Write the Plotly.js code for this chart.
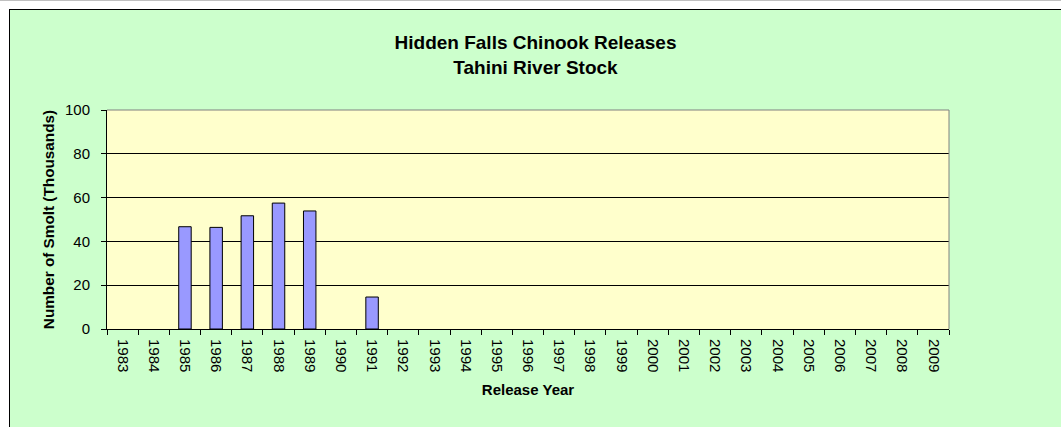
<!DOCTYPE html>
<html>
<head>
<meta charset="utf-8">
<script src="https://cdn.plot.ly/plotly-3.0.1.min.js"></script>
<style>
  html, body { margin: 0; padding: 0; background: #ffffff; width: 1061px; height: 427px; overflow: hidden; }
  #topline { position: absolute; left: 0; top: 0; width: 1061px; height: 1px; background: #c0c0c0; }
  #frame { position: absolute; left: 9px; top: 9px; width: 1052px; height: 418px; border-left: 1px solid #000; border-top: 1px solid #000; box-sizing: border-box; background: #CCFFCC; }
  #chart { position: absolute; left: 10px; top: 10px; width: 1051px; height: 417px; }
</style>
</head>
<body>
<div id="topline"></div>
<div id="frame"></div>
<div id="chart"></div>
<script>
const years = ["1983","1984","1985","1986","1987","1988","1989","1990","1991","1992","1993","1994","1995","1996","1997","1998","1999","2000","2001","2002","2003","2004","2005","2006","2007","2008","2009"];
const smolt = [null, null, 46.7, 46.4, 51.7, 57.5, 53.9, null, 14.6, null, null, null, null, null, null, null, null, null, null, null, null, null, null, null, null, null, null];
const yTicks = [0, 20, 40, 60, 80, 100];

const font = "Liberation Sans, Arial, Helvetica, sans-serif";

const trace = {
  type: "bar",
  x: years,
  y: smolt,
  marker: { color: "#9999FF", line: { color: "#000000", width: 1 } },
  hoverinfo: "x+y"
};

const layout = {
  width: 1051,
  height: 417,
  paper_bgcolor: "#CCFFCC",
  plot_bgcolor: "#FFFFCC",
  margin: { l: 97, r: 112, t: 100, b: 98 },
  showlegend: false,
  bargap: 0.6,
  font: { family: font, color: "#000000" },
  title: {
    text: "<b>Hidden Falls Chinook Releases<br>Tahini River Stock</b>",
    font: { family: font, size: 19, color: "#000000" },
    x: 0.5, xref: "container", xanchor: "center",
    y: 0.906, yref: "container", yanchor: "top"
  },
  xaxis: {
    type: "category",
    tickangle: 90,
    tickfont: { family: font, size: 15, color: "#000000" },
    ticks: "outside", ticklen: 5, tickcolor: "#000000", tickwidth: 1,
    tickson: "boundaries",
    ticklabelstandoff: 6,
    showline: true, linecolor: "#000000", linewidth: 1,
    showgrid: false,
    zeroline: false,
    title: { text: "<b>Release Year</b>", font: { family: font, size: 15, color: "#000000" }, standoff: 13 },
    automargin: false
  },
  yaxis: {
    range: [0, 100],
    tickvals: yTicks,
    ticktext: yTicks.map(String),
    tickfont: { family: font, size: 15, color: "#000000" },
    ticks: "outside", ticklen: 5, tickcolor: "#000000", tickwidth: 1,
    ticklabelstandoff: 8,
    showline: true, linecolor: "#000000", linewidth: 1,
    showgrid: true, gridcolor: "#000000", gridwidth: 1,
    zeroline: false,
    title: { text: "<b>Number of Smolt (Thousands)</b>", font: { family: font, size: 15.3, color: "#000000" }, standoff: 6 },
    automargin: false
  },
  shapes: [
    { type: "line", xref: "paper", yref: "paper", x0: 0, x1: 1, y0: 1, y1: 1, line: { color: "#808080", width: 1 }, layer: "above" },
    { type: "line", xref: "paper", yref: "paper", x0: 1, x1: 1, y0: 0, y1: 1, line: { color: "#808080", width: 1 }, layer: "above" }
  ]
};

Plotly.newPlot("chart", [trace], layout, { displayModeBar: false, staticPlot: true });
</script>
</body>
</html>
